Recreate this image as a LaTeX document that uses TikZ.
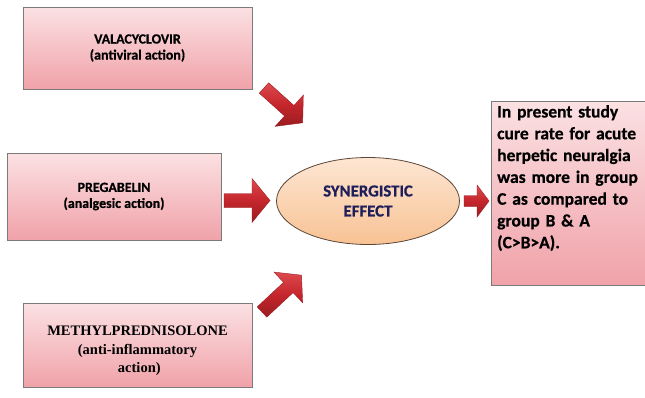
\documentclass[tikz,border=0pt]{standalone}
\usepackage{fontspec}
\setmainfont{Carlito}[BoldFont={Carlito Bold},BoldFeatures={FakeBold=0.6}]
\newfontfamily\timesf{Liberation Serif}[BoldFont={Liberation Serif Bold}]
\usetikzlibrary{shapes.geometric,shadows}
\definecolor{pinktop}{HTML}{FBE1E3}
\definecolor{pinkbot}{HTML}{F0A2A9}
\definecolor{boxline}{HTML}{7A7A7A}
\definecolor{peachtop}{HTML}{FDE6D3}
\definecolor{peachbot}{HTML}{F8C294}
\definecolor{ellline}{HTML}{5B4636}
\definecolor{navytext}{HTML}{1E1E5A}
\definecolor{arrowlight}{HTML}{DE4A4E}
\definecolor{arrowred}{HTML}{C4262C}
\definecolor{arrowdark}{HTML}{9A1C21}
\tikzset{
  pinkbox/.style={draw=boxline, line width=0.8pt, top color=pinktop, bottom color=pinkbot,
    rectangle, inner sep=0pt, drop shadow={opacity=0.25, shadow xshift=1.2pt, shadow yshift=-1.2pt}},
  calitext/.style={font=\bfseries\fontsize{14}{16}\selectfont, align=center},
  timestext/.style={font=\timesf\bfseries\fontsize{14.5}{18.5}\selectfont, align=center},
  pics/barrow/.style n args={4}{code={
    \path[top color=arrowlight, bottom color=arrowdark, middle color=arrowred, draw=arrowdark, line width=0.4pt, line join=miter]
      (0,-#3) -- (#1-#2,-#3) -- (#1-#2,-#4) -- (#1,0) -- (#1-#2,#4) -- (#1-#2,#3) -- (0,#3) -- cycle;
  }},
}
\begin{document}
\begin{tikzpicture}[x=1pt,y=-1pt]
\useasboundingbox[fill=white] (0,0) rectangle (645,397);
% left boxes
\node[pinkbox, minimum width=229pt, minimum height=82pt] (val) at (137.5,48) {};
\node[calitext] (valtxt) at (val.center) {VALACYCLOVIR\\(antiviral action)};
\node[pinkbox, minimum width=214pt, minimum height=87pt] (pre) at (114,196.5) {};
\node[calitext] (pretxt) at (pre.center) {PREGABELIN\\(analgesic action)};
\node[pinkbox, minimum width=229pt, minimum height=84pt] (met) at (137.5,345) {};
\node[timestext] (mettxt) at ([yshift=-6pt]met.center) {METHYLPREDNISOLONE\\(anti-inflammatory\\ \ action)};
% ellipse
\node[ellipse, draw=ellline, line width=0.8pt, top color=peachtop, bottom color=peachbot,
      minimum width=183pt, minimum height=87pt, inner sep=0pt] (syn) at (368,201) {};
\node[font=\bfseries\fontsize{16.8}{20}\selectfont, text=navytext, align=center] (syntxt) at (syn.center) {SYNERGISTIC\\EFFECT};
% result box
\node[pinkbox, minimum width=154pt, minimum height=184pt] (res) at (568,193) {};
\node[anchor=north west, inner sep=0pt, align=left, text width=146pt,
      font=\bfseries\fontsize{17.5}{21.8}\selectfont] (restxt) at (497,105)
  {In present study\\cure rate for acute\\herpetic neuralgia\\was more in group\\C as compared to\\group B \& A\\(C>B>A).};
% arrows
\pic[rotate=-42] at (264,88) {barrow={52}{18}{7}{21}};
\pic at (224,200.5) {barrow={46}{18}{7}{22}};
\pic[rotate=43] at (262,312) {barrow={54}{18}{7}{21}};
\pic at (464,201) {barrow={25}{12}{5.5}{16}};
\end{tikzpicture}
\end{document}
